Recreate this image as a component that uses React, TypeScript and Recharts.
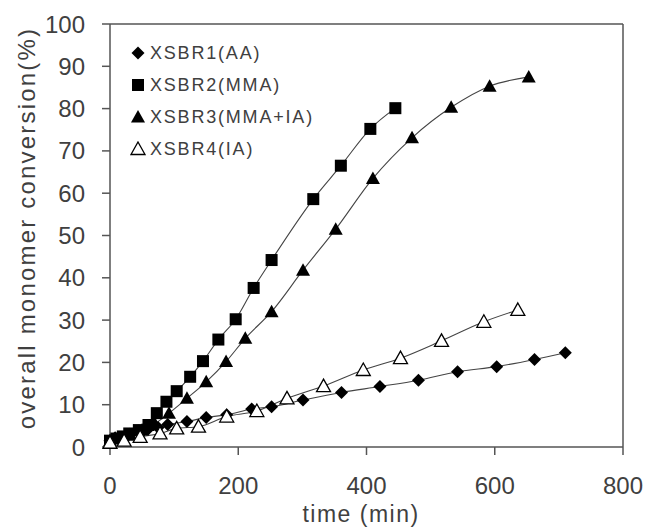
import React from 'react';
import { LineChart, Line, XAxis, YAxis, ReferenceLine, Legend } from 'recharts';

document.body.style.margin = '0';

// time (min) / overall monomer conversion (%)
const xsbr1Time = [0, 8, 18, 30, 45, 60, 75, 90, 120, 150, 182, 221, 252, 301, 361, 421, 481, 542, 603, 662, 710];
const xsbr1Conv = [1.5, 2.2, 1.8, 3.0, 3.8, 4.3, 4.6, 5.3, 6.0, 7.0, 7.6, 9.0, 9.5, 11.1, 12.9, 14.3, 15.8, 17.8, 19.0, 20.7, 22.3];

const xsbr2Time = [0, 10, 20, 30, 45, 60, 73, 88, 104, 125, 145, 169, 196, 224, 252, 317, 360, 406, 445];
const xsbr2Conv = [1.5, 2.0, 2.5, 3.2, 4.0, 5.2, 8.0, 10.7, 13.2, 16.6, 20.3, 25.4, 30.2, 37.6, 44.2, 58.6, 66.5, 75.2, 80.1];

const xsbr3Time = [0, 15, 30, 50, 70, 92, 120, 150, 181, 211, 252, 301, 352, 410, 471, 532, 592, 653];
const xsbr3Conv = [1.5, 2.0, 2.8, 4.0, 5.5, 8.0, 11.5, 15.4, 20.2, 25.7, 32.0, 41.8, 51.5, 63.5, 73.1, 80.3, 85.3, 87.5];

const xsbr4Time = [0, 22, 47, 78, 104, 138, 182, 229, 276, 333, 395, 453, 517, 583, 636];
const xsbr4Conv = [1.0, 1.5, 2.4, 3.2, 4.4, 4.8, 7.2, 8.5, 11.5, 14.4, 18.2, 21.0, 25.1, 29.6, 32.4];

const xTicks = [0, 200, 400, 600, 800];
const yTicks = [0, 10, 20, 30, 40, 50, 60, 70, 80, 90, 100];

const toPoints = (t: number[], c: number[]) => t.map((x, i) => ({ x, y: c[i] }));

const FONT = '"Liberation Sans", Arial, sans-serif';
const AXIS = '#555';
const TEXT = '#404040';

const Marker = ({ kind, cx, cy }: { kind: string; cx: number; cy: number }) => {
  if (kind === 'diamond')
    return <polygon points={`${cx},${cy - 6.5} ${cx + 6.5},${cy} ${cx},${cy + 6.5} ${cx - 6.5},${cy}`} fill="#000" />;
  if (kind === 'square') return <rect x={cx - 6} y={cy - 6} width={12} height={12} fill="#000" />;
  const d = `${cx},${cy - 7} ${cx + 7},${cy + 5.5} ${cx - 7},${cy + 5.5}`;
  if (kind === 'triangle') return <polygon points={d} fill="#000" />;
  return <polygon points={d} fill="#fff" stroke="#000" strokeWidth={1.3} />;
};

const series = [
  { name: 'XSBR1(AA)', kind: 'diamond', data: toPoints(xsbr1Time, xsbr1Conv) },
  { name: 'XSBR2(MMA)', kind: 'square', data: toPoints(xsbr2Time, xsbr2Conv) },
  { name: 'XSBR3(MMA+IA)', kind: 'triangle', data: toPoints(xsbr3Time, xsbr3Conv) },
  { name: 'XSBR4(IA)', kind: 'open', data: toPoints(xsbr4Time, xsbr4Conv) },
];

const LegendBox = () => (
  <div style={{ fontFamily: FONT }}>
    {series.map((s) => (
      <div key={s.name} style={{ display: 'flex', alignItems: 'center', height: 32 }}>
        <svg width={16} height={16} style={{ marginRight: 4 }}>
          <Marker kind={s.kind} cx={8} cy={8} />
        </svg>
        <span style={{ fontSize: 18, letterSpacing: 1.8, color: TEXT }}>{s.name}</span>
      </div>
    ))}
  </div>
);

export default function App() {
  return (
    <div style={{ width: 645, height: 528, background: '#fff' }}>
      <LineChart width={645} height={528} margin={{ top: 24, right: 22, bottom: 0, left: 0 }}>
        <XAxis
          type="number"
          dataKey="x"
          domain={[0, 800]}
          ticks={xTicks}
          height={81}
          stroke={AXIS}
          strokeWidth={1.5}
          tickSize={8}
          tickMargin={22}
          tick={{ fill: TEXT, fontSize: 24, fontFamily: FONT }}
          label={{
            content: () => (
              <text x={361} y={522} textAnchor="middle" fill={TEXT} fontSize={23} fontFamily={FONT} letterSpacing={1.5}>
                time (min)
              </text>
            ),
          }}
        />
        <YAxis
          type="number"
          domain={[0, 100]}
          ticks={yTicks}
          width={110}
          stroke={AXIS}
          strokeWidth={1.5}
          tickSize={8}
          tickMargin={17}
          tick={{ fill: TEXT, fontSize: 24, fontFamily: FONT }}
          label={{
            content: () => (
              <text
                x={26}
                y={228}
                transform="rotate(-90 26 228)"
                textAnchor="middle"
                dominantBaseline="central"
                fill={TEXT}
                fontSize={24}
                fontFamily={FONT}
                letterSpacing={2.2}
              >
                overall monomer conversion(%)
              </text>
            ),
          }}
        />
        <ReferenceLine y={100} stroke={AXIS} strokeWidth={1.5} />
        <ReferenceLine x={800} stroke={AXIS} strokeWidth={1.5} />
        <Legend
          layout="vertical"
          align="center"
          verticalAlign="middle"
          wrapperStyle={{ left: 130, top: 37, width: 'auto' }}
          content={() => <LegendBox />}
        />
        {series.map((s) => (
          <Line
            key={s.name}
            data={s.data}
            dataKey="y"
            name={s.name}
            type="monotone"
            stroke="#444"
            strokeWidth={1.1}
            isAnimationActive={false}
            dot={(p: any) => <Marker key={`${s.kind}-${p.index}`} kind={s.kind} cx={p.cx} cy={p.cy} />}
            activeDot={false}
          />
        ))}
      </LineChart>
    </div>
  );
}
